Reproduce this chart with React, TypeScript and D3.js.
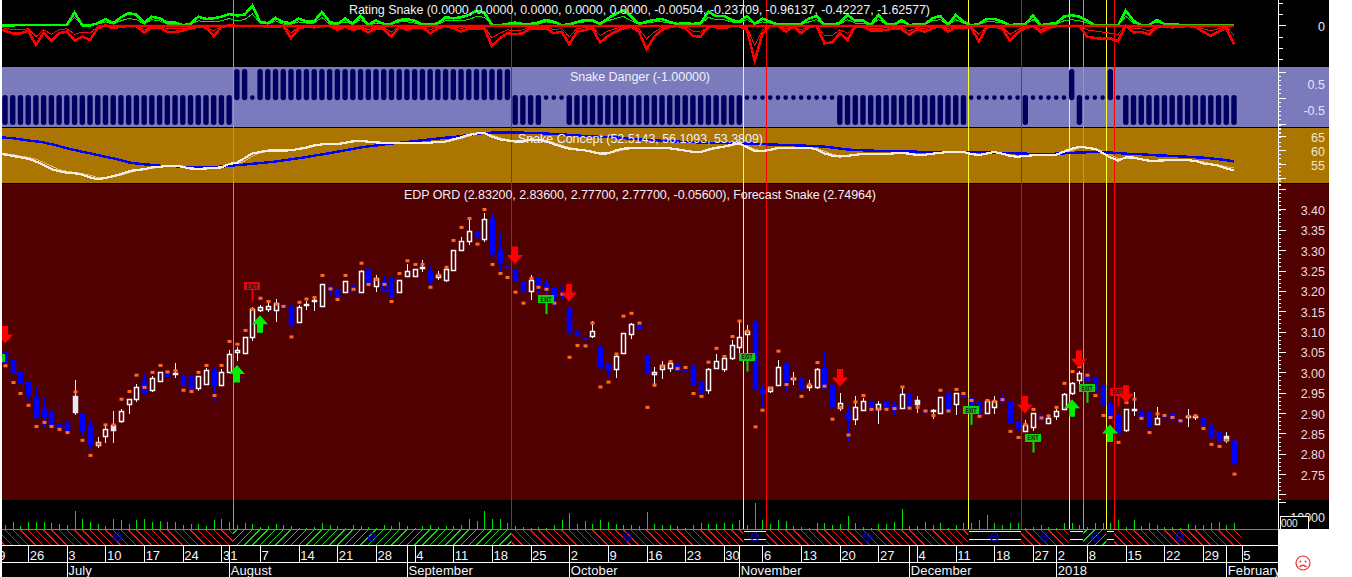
import * as d3 from "d3";
import { useEffect, useRef } from "react";

// Daily candles, one entry per trading day
const opens = [
  3.049, 3.03, 3.001, 2.977, 2.939, 2.909, 2.904, 2.874, 2.878, 2.942,
  2.898, 2.87, 2.822, 2.844, 2.87, 2.88, 2.921, 2.934, 2.978, 2.957,
  2.979, 3.001, 2.998, 2.991, 2.991, 2.962, 2.972, 3.006, 2.97, 3.002,
  3.049, 3.048, 3.086, 3.154, 3.155, 3.154, 3.166, 3.163, 3.123, 3.167,
  3.177, 3.164, 3.206, 3.204, 3.198, 3.213, 3.198, 3.253, 3.213, 3.221,
  3.232, 3.198, 3.237, 3.237, 3.258, 3.248, 3.233, 3.228, 3.251, 3.301,
  3.323, 3.345, 3.328, 3.376, 3.3, 3.262, 3.251, 3.222, 3.201, 3.231,
  3.217, 3.207, 3.192, 3.158, 3.101, 3.085, 3.09, 3.061, 3.02, 3.009,
  3.048, 3.095, 3.12, 3.042, 2.997, 3.007, 3.011, 3.02, 3.006, 3.016,
  2.977, 2.956, 3.011, 3.009, 3.036, 3.063, 3.095, 3.125, 2.96, 2.953,
  2.969, 3.02, 2.987, 2.985, 2.965, 2.965, 3.011, 2.968, 2.913, 2.899,
  2.886, 2.908, 2.929, 2.911, 2.929, 2.919, 2.913, 2.947, 2.931, 2.906,
  2.908, 2.899, 2.948, 2.921, 2.945, 2.936, 2.927, 2.901, 2.914, 2.936,
  2.927, 2.879, 2.857, 2.866, 2.896, 2.876, 2.893, 2.911, 2.948, 2.98,
  2.996, 2.988, 2.968, 2.922, 2.893, 2.858, 2.911, 2.904, 2.903, 2.874,
  2.894, 2.897, 2.884, 2.892, 2.892, 2.889, 2.87, 2.853, 2.843, 2.832,
];
const closes = [
  3.026, 3.002, 2.973, 2.947, 2.891, 2.893, 2.87, 2.863, 2.858, 2.903,
  2.858, 2.824, 2.83, 2.86, 2.859, 2.904, 2.934, 2.963, 2.952, 2.985,
  3.002, 2.992, 2.998, 2.971, 2.961, 2.992, 3.005, 2.969, 3.002, 3.045,
  3.056, 3.086, 3.155, 3.16, 3.162, 3.171, 3.164, 3.116, 3.16, 3.167,
  3.177, 3.216, 3.204, 3.188, 3.224, 3.201, 3.248, 3.22, 3.231, 3.202,
  3.188, 3.228, 3.248, 3.255, 3.258, 3.228, 3.239, 3.253, 3.3, 3.323,
  3.346, 3.332, 3.376, 3.292, 3.272, 3.26, 3.228, 3.2, 3.228, 3.216,
  3.207, 3.188, 3.191, 3.1, 3.092, 3.083, 3.101, 3.016, 3.008, 3.041,
  3.096, 3.118, 3.11, 3.002, 3.002, 3.017, 3.022, 3.005, 3.005, 2.972,
  2.952, 3.009, 3.027, 3.034, 3.066, 3.086, 3.102, 2.959, 2.952, 2.965,
  3.014, 2.981, 2.987, 2.959, 2.97, 3.007, 2.965, 2.917, 2.924, 2.888,
  2.914, 2.929, 2.908, 2.921, 2.914, 2.909, 2.946, 2.914, 2.921, 2.904,
  2.908, 2.939, 2.907, 2.948, 2.942, 2.912, 2.899, 2.929, 2.93, 2.929,
  2.879, 2.866, 2.871, 2.899, 2.885, 2.887, 2.904, 2.946, 2.975, 2.998,
  2.981, 2.953, 2.922, 2.889, 2.854, 2.911, 2.911, 2.893, 2.869, 2.887,
  2.893, 2.888, 2.882, 2.892, 2.892, 2.87, 2.841, 2.831, 2.834, 2.777,
];
const highs = [
  3.055, 3.041, 3.001, 2.977, 2.963, 2.936, 2.942, 2.893, 2.889, 2.981,
  2.898, 2.885, 2.84, 2.871, 2.905, 2.911, 2.934, 2.971, 2.995, 2.991,
  3.002, 3.018, 3.023, 3.001, 2.991, 2.992, 3.01, 3.01, 3.007, 3.055,
  3.061, 3.086, 3.161, 3.165, 3.174, 3.18, 3.174, 3.163, 3.165, 3.176,
  3.184, 3.216, 3.215, 3.209, 3.224, 3.231, 3.251, 3.253, 3.238, 3.237,
  3.239, 3.228, 3.266, 3.255, 3.275, 3.262, 3.249, 3.261, 3.3, 3.333,
  3.376, 3.345, 3.392, 3.391, 3.34, 3.276, 3.251, 3.222, 3.238, 3.231,
  3.228, 3.207, 3.214, 3.158, 3.115, 3.099, 3.126, 3.065, 3.02, 3.045,
  3.096, 3.12, 3.136, 3.042, 3.012, 3.028, 3.03, 3.027, 3.006, 3.016,
  3.002, 3.011, 3.045, 3.034, 3.079, 3.126, 3.116, 3.125, 2.968, 2.965,
  3.03, 3.026, 3.0, 3.001, 2.981, 3.011, 3.051, 2.968, 2.948, 2.917,
  2.942, 2.937, 2.935, 2.929, 2.929, 2.929, 2.966, 2.958, 2.942, 2.932,
  2.91, 2.939, 2.948, 2.948, 2.95, 2.948, 2.958, 2.934, 2.942, 2.948,
  2.927, 2.879, 2.882, 2.899, 2.909, 2.894, 2.909, 2.95, 2.977, 3.004,
  3.022, 3.001, 2.968, 2.928, 2.899, 2.911, 2.952, 2.924, 2.903, 2.914,
  2.901, 2.897, 2.886, 2.911, 2.898, 2.889, 2.872, 2.857, 2.853, 2.836,
];
const lows = [
  3.024, 2.987, 2.973, 2.928, 2.887, 2.865, 2.865, 2.858, 2.854, 2.895,
  2.844, 2.809, 2.815, 2.827, 2.827, 2.876, 2.898, 2.928, 2.942, 2.952,
  2.977, 2.992, 2.987, 2.961, 2.961, 2.955, 2.972, 2.93, 2.97, 3.002,
  3.029, 3.046, 3.078, 3.149, 3.148, 3.124, 3.143, 3.104, 3.122, 3.153,
  3.151, 3.164, 3.188, 3.188, 3.198, 3.194, 3.198, 3.215, 3.198, 3.202,
  3.182, 3.198, 3.237, 3.237, 3.246, 3.212, 3.227, 3.223, 3.249, 3.299,
  3.313, 3.294, 3.321, 3.284, 3.247, 3.247, 3.206, 3.184, 3.178, 3.194,
  3.192, 3.161, 3.179, 3.084, 3.075, 3.056, 3.085, 3.006, 2.989, 2.987,
  3.048, 3.083, 3.11, 2.959, 2.965, 2.984, 3.002, 3.005, 3.005, 2.958,
  2.952, 2.947, 3.011, 3.002, 3.03, 3.038, 3.034, 2.889, 2.916, 2.948,
  2.967, 2.954, 2.969, 2.959, 2.955, 2.96, 2.96, 2.916, 2.905, 2.832,
  2.871, 2.908, 2.908, 2.873, 2.907, 2.895, 2.911, 2.911, 2.899, 2.901,
  2.885, 2.899, 2.907, 2.895, 2.925, 2.907, 2.892, 2.899, 2.897, 2.925,
  2.879, 2.854, 2.857, 2.856, 2.881, 2.874, 2.883, 2.911, 2.945, 2.971,
  2.981, 2.948, 2.914, 2.885, 2.854, 2.854, 2.893, 2.881, 2.869, 2.874,
  2.885, 2.881, 2.873, 2.866, 2.883, 2.87, 2.841, 2.831, 2.827, 2.777,
];
const forecastSnake = [
  3.016, 2.975, 2.948, 2.919, 2.867, 2.877, 2.867, 2.86, 2.852, 2.952,
  2.833, 2.796, 2.824, 2.871, 2.871, 2.934, 2.953, 2.993, 2.963, 3.0,
  3.017, 3.001, 3.004, 2.956, 2.953, 3.0, 3.017, 2.943, 3.017, 3.076,
  3.069, 3.103, 3.155, 3.182, 3.174, 3.167, 3.162, 3.087, 3.172, 3.18,
  3.184, 3.238, 3.205, 3.179, 3.238, 3.204, 3.268, 3.216, 3.228, 3.216,
  3.174, 3.243, 3.274, 3.265, 3.265, 3.209, 3.239, 3.258, 3.324, 3.356,
  3.378, 3.315, 3.4, 3.265, 3.243, 3.233, 3.197, 3.17, 3.231, 3.209,
  3.204, 3.17, 3.192, 3.037, 3.066, 3.065, 3.121, 2.964, 2.976, 3.045,
  3.138, 3.145, 3.121, 2.914, 2.969, 3.015, 3.026, 3.009, 3.012, 2.948,
  2.941, 3.025, 3.059, 3.039, 3.088, 3.126, 3.101, 2.866, 2.907, 2.961,
  3.052, 2.97, 2.985, 2.941, 2.97, 3.024, 2.966, 2.885, 2.914, 2.846,
  2.927, 2.943, 2.909, 2.91, 2.909, 2.911, 2.964, 2.912, 2.914, 2.905,
  2.894, 2.956, 2.905, 2.958, 2.948, 2.931, 2.892, 2.931, 2.929, 2.933,
  2.855, 2.84, 2.872, 2.909, 2.888, 2.893, 2.914, 2.973, 3.002, 3.014,
  2.993, 2.943, 2.894, 2.889, 2.828, 2.926, 2.934, 2.887, 2.852, 2.898,
  2.894, 2.889, 2.881, 2.892, 2.893, 2.862, 2.823, 2.818, 2.833, 2.75,
];
const solidWhiteDays = [9, 14, 118, 158];
const blueOutlineDays = [49];

// Volume (thousands)
const volumes = [
  4.3, 7.3, 3.3, 7.3, 7.3, 7.3, 6.3, 5.3, 4.3, 18.3, 10.3, 7.3, 5.3, 3.3, 10.3, 9.3, 5.3, 9.3, 10.3, 7.3,
  8.3, 7.3, 7.3, 4.3, 5.3, 5.3, 3.3, 9.3, 10.3, 7.3, 4.3, 6.3, 5.3, 2.3, 3.3, 5.3, 4.3, 3.3, 1.3, 1.3,
  2.3, 6.3, 4.3, 3.3, 1.3, 4.3, 3.3, 2.3, 0.7, 4.3, 3.3, 7.3, 3.3, 0.7, 3.3, 4.3, 2.3, 3.3, 2.7, 4.3,
  10.3, 8.3, 18.3, 10.3, 10.3, 6.3, 3.3, 2.3, 1.3, 2.3, 1.3, 4.3, 9.3, 16.3, 5.3, 8.3, 5.3, 9.3, 7.3, 5.3,
  4.3, 4.3, 3.3, 17.3, 5.3, 4.3, 4.3, 3.3, 1.3, 4.3, 6.3, 5.3, 5.3, 6.3, 5.3, 9.3, 4.3, 26.3, 9.3, 5.3,
  9.3, 8.3, 3.3, 2.3, 1.3, 6.3, 6.3, 4.3, 5.3, 13.3, 6.3, 2.3, 0.7, 5.3, 5.3, 7.3, 19.7, 3, 3, 7,
  4.3, 5.7, 0.7, 4, 5.7, 6.3, 9, 14, 5.7, 3.7, 5.7, 6.3, 0.7, 1.7, 3.7, 1.7, 0.7, 6.3, 5.7, 3.7,
  2.3, 5.7, 5.7, 5.7, 9, 2.3, 9, 3, 6.3, 4, 2.3, 2.3, 0.7, 5, 4, 4, 5.7, 7, 4.3, 5.7,
];

// Rating Snake
const ratingGreen = [
  0, 0, 0.03, 0.03, 0.03, 0.03, 0.03, 0.03, 0.03, 1.12, 0, 0, 0.18, 0.56, 0.18, 0.71, 1.06, 0.94, 0.24, 0.76,
  0.62, 0.24, 0.24, 0, 0.12, 0.76, 0.56, 0.62, 0.76, 1.0, 0.88, 0.94, 1.74, 0.32, 0.18, 0.65, 0.29, 0.18, 0.59, 0.35,
  0.35, 1.18, 0.29, 0.12, 0.59, 0.12, 0.82, 0.06, 0.41, 0.12, 0.12, 0.47, 0.53, 0.41, 0.06, 0.06, 0.18, 0.71, 0.62, 0.71,
  0.91, 1.29, 1.12, 0.03, 0, 0.12, 0.24, 0.12, 0.12, 0.24, 0.47, 0.32, 0.03, 0.06, 0.29, 0.47, 0.47, 0.12, 0.6, 1.0,
  1.35, 0.76, 0.12, 0.32, 0.47, 0.56, 0.29, 0.12, 0.18, 0.12, 0.18, 1.2, 0.82, 0.82, 0.47, 0.32, 0.82, 0.12, 0.6, 0.32,
  0.06, 0.12, 0.12, 0.12, 0.6, 0.82, 0.06, 0.06, 0.2, 0.9, 0.41, 0.41, 0.03, 0.91, 0.12, 0.06, 0.47, 0, 0.12, 0.12,
  0.62, 0.82, 0.03, 0.91, 0.32, 0, 0.12, 0.56, 0.56, 0.32, 0, 0.12, 0.12, 0.85, 0, 0.12, 0.18, 0.76, 0.91, 0.76,
  0.41, 0, 0, 0.03, 0, 1.29, 0.41, 0, 0, 0.47, 0.12, 0.12, 0.03, 0.03, 0.03, 0, 0, 0, 0, 0,
];
const ratingGreenThin = [
  0, 0, 0, 0, 0, 0, 0, 0, 0, 0.7, 0, 0, 0.1, 0.3, 0.1, 0.4, 0.6, 0.5, 0.1, 0.5,
  0.4, 0.1, 0.1, 0, 0.1, 0.4, 0.3, 0.3, 0.4, 0.6, 0.4, 0.5, 1.0, 0.2, 0.1, 0.4, 0.1, 0.1, 0.3, 0.2,
  0.2, 0.7, 0.1, 0.1, 0.3, 0.1, 0.5, 0, 0.2, 0.1, 0.1, 0.3, 0.3, 0.2, 0, 0, 0.1, 0.4, 0.4, 0.4,
  0.5, 0.8, 0.7, 0, 0, 0.1, 0.1, 0.1, 0.1, 0.1, 0.3, 0.2, 0, 0, 0.2, 0.3, 0.3, 0.1, 0.4, 0.6,
  0.8, 0.4, 0.1, 0.2, 0.3, 0.3, 0.2, 0.1, 0.1, 0.1, 0.1, 0.7, 0.5, 0.5, 0.3, 0.2, 0.5, 0.1, 0.3, 0.2,
  0, 0.1, 0.1, 0.1, 0.3, 0.5, 0, 0, 0.1, 0.5, 0.2, 0.2, 0, 0.5, 0.1, 0, 0.3, 0, 0.1, 0.1,
  0.4, 0.5, 0, 0.5, 0.2, 0, 0.1, 0.3, 0.3, 0.2, 0, 0.1, 0.1, 0.5, 0, 0.1, 0.1, 0.4, 0.5, 0.4,
  0.2, 0, 0, 0, 0, 0.8, 0.2, 0, 0, 0.3, 0.1, 0.1, 0, 0, 0, 0, 0, 0, 0, 0,
];
const ratingRed = [
  -0.41, -0.71, -0.71, -0.47, -1.74, -0.65, -1.38, -0.71, -0.56, -1.35, -1.0, -1.29, -0.26, 0, -0.26, -0.12, -0.06, -0.06, -0.65, -0.18,
  -0.18, -0.59, -0.59, -0.47, -0.29, -0.12, -0.18, -0.94, -0.18, 0, -0.06, -0.06, -0.06, -0.06, -0.12, -0.12, -0.06, -1.15, -0.26, -0.12,
  -0.18, -0.06, -0.06, -0.41, -0.12, -0.41, -0.24, -0.65, -0.26, -0.35, -1.0, -0.12, -0.41, -0.18, -0.18, -0.71, -0.26, -0.06, -0.26, -0.56,
  -0.26, -0.26, -0.26, -1.82, -1.15, -0.71, -0.79, -0.71, -0.26, -0.26, -0.26, -0.71, -0.56, -1.68, -0.56, -0.41, -0.26, -1.53, -0.94, -0.56,
  -0.26, -0.12, -0.56, -2.12, -1.0, -0.41, -0.12, -0.06, -0.26, -0.94, -1.0, -0.12, -0.18, -0.26, -0.06, -0.06, -0.41, -3.15, -0.71, -0.06,
  -0.06, -0.56, -0.12, -0.71, -0.12, -0.06, -1.59, -1.53, -0.71, -1.29, -0.12, -0.12, -0.47, -0.47, -0.41, -0.26, -0.35, -0.85, -0.35, -0.56,
  -0.26, -0.06, -0.56, -0.18, -0.26, -0.24, -1.44, -0.18, -0.12, -0.26, -1.35, -0.65, -0.26, -0.06, -0.62, -0.26, -0.06, -0.06, -0.06, -0.06,
  -1.0, -1.12, -1.2, -1.15, -1.41, -0.06, -0.62, -0.59, -0.82, -0.18, -0.12, -0.18, -0.12, -0.06, -0.12, -0.56, -0.94, -0.56, -0.24, -1.68,
];
const ratingRedThin = [
  -0.2, -0.4, -0.4, -0.3, -1.0, -0.4, -0.8, -0.4, -0.3, -0.8, -0.6, -0.7, -0.1, 0, -0.1, -0.1, 0, 0, -0.4, -0.1,
  -0.1, -0.3, -0.3, -0.3, -0.2, -0.1, -0.1, -0.5, -0.1, 0, 0, 0, 0, 0, -0.1, -0.1, 0, -0.7, -0.1, -0.1,
  -0.1, 0, 0, -0.2, -0.1, -0.2, -0.1, -0.4, -0.1, -0.2, -0.6, -0.1, -0.2, -0.1, -0.1, -0.4, -0.1, 0, -0.1, -0.3,
  -0.1, -0.1, -0.1, -1.1, -0.7, -0.4, -0.5, -0.4, -0.1, -0.1, -0.1, -0.4, -0.3, -1.0, -0.3, -0.2, -0.1, -0.9, -0.5, -0.3,
  -0.1, -0.1, -0.3, -1.2, -0.6, -0.2, -0.1, 0, -0.1, -0.5, -0.6, -0.1, -0.1, -0.1, 0, 0, -0.2, -1.8, -0.4, 0,
  0, -0.3, -0.1, -0.4, -0.1, 0, -0.9, -0.9, -0.4, -0.7, -0.1, -0.1, -0.3, -0.3, -0.2, -0.1, -0.2, -0.5, -0.2, -0.3,
  -0.1, 0, -0.3, -0.1, -0.1, -0.1, -0.8, -0.1, -0.1, -0.1, -0.8, -0.4, -0.1, 0, -0.4, -0.1, 0, 0, 0, 0,
  -0.4, -0.5, -0.6, -0.7, -0.8, 0, -0.3, -0.3, -0.5, -0.1, -0.1, -0.1, -0.1, 0, -0.1, -0.3, -0.5, -0.3, -0.1, -0.9,
];

// Snake Danger: -1, 0 or 1
const snakeDanger = [
  -1, -1, -1, -1, -1, -1, -1, -1, -1, -1, -1, -1, -1, -1, -1, -1, -1, -1, -1, -1,
  -1, -1, -1, -1, -1, -1, -1, -1, -1, -1, 1, 1, 0, 1, 1, 1, 1, 1, 1, 1,
  1, 1, 1, 1, 1, 1, 1, 1, 1, 1, 1, 1, 1, 1, 1, 1, 1, 1, 1, 1,
  1, 1, 1, 1, 1, 1, -1, -1, -1, -1, 0, 0, 0, -1, -1, -1, -1, -1, -1, -1,
  -1, -1, -1, -1, -1, -1, -1, -1, -1, -1, -1, -1, -1, -1, -1, -1, 0, 0, 0, 0,
  0, 0, 0, 0, 0, 0, 0, 0, -1, -1, -1, -1, -1, -1, -1, -1, -1, -1, -1, -1,
  -1, -1, -1, -1, -1, 0, 0, 0, 0, 0, 0, 0, -1, 0, 0, 0, 0, 0, 1, -1,
  0, 0, 0, 1, 0, -1, -1, -1, -1, -1, -1, -1, -1, -1, -1, -1, -1, -1, -1, -1,
];

// Snake Concept
const conceptBlue = [
  65.1, 64.8, 64.4, 64.0, 63.7, 63.3, 62.7, 62.0, 61.2, 60.6, 60.0, 59.4, 58.8, 58.2, 57.6, 57.0, 56.2, 55.8, 55.5, 55.3,
  55.0, 54.9, 54.8, 54.6, 54.4, 54.3, 54.3, 54.5, 54.7, 54.9, 55.2, 55.4, 55.7, 55.9, 56.2, 56.5, 56.9, 57.3, 57.7, 58.1,
  58.6, 59.0, 59.5, 60.0, 60.5, 61.0, 61.5, 61.9, 62.2, 62.6, 62.9, 63.2, 63.5, 63.8, 64.1, 64.4, 64.7, 65.0, 65.2, 65.6,
  66.0, 66.4, 66.7, 66.8, 66.8, 66.8, 66.8, 66.8, 66.7, 66.6, 66.5, 66.3, 66.2, 66.0, 65.8, 65.6, 65.5, 65.3, 65.2, 65.1,
  64.9, 64.6, 64.4, 64.2, 64.1, 63.9, 63.8, 63.6, 63.5, 63.4, 63.3, 63.2, 63.2, 63.1, 63.1, 63.0, 63.0, 62.8, 62.7, 62.6,
  62.5, 62.4, 62.3, 62.2, 62.1, 62.0, 61.8, 61.5, 61.1, 60.8, 60.6, 60.5, 60.4, 60.3, 60.3, 60.2, 60.2, 60.1, 60.0, 60.0,
  59.9, 59.9, 59.9, 59.9, 59.9, 59.8, 59.8, 59.7, 59.6, 59.6, 59.5, 59.4, 59.3, 59.2, 59.2, 59.2, 59.3, 59.4, 59.6, 59.7,
  59.8, 59.8, 59.8, 59.7, 59.5, 59.3, 59.2, 59.1, 58.9, 58.7, 58.6, 58.5, 58.3, 58.2, 58.0, 57.9, 57.6, 57.3, 57.0, 56.5,
];
const conceptWhite = [
  59.2, 58.5, 58.0, 57.5, 56.5, 55.2, 53.8, 53.0, 52.5, 52.3, 51.8, 50.8, 50.2, 50.6, 51.3, 52.0, 53.0, 53.5, 53.7, 54.4,
  54.6, 54.9, 55.0, 54.6, 54.0, 53.9, 54.0, 54.2, 54.4, 55.6, 56.1, 57.7, 59.4, 59.9, 60.4, 60.4, 60.4, 60.5, 61.0, 61.5,
  62.3, 62.6, 62.7, 62.7, 63.2, 63.7, 63.8, 63.6, 63.3, 63.2, 63.0, 63.1, 63.2, 63.2, 63.2, 63.2, 63.5, 63.6, 64.4, 65.1,
  66.0, 66.5, 66.8, 65.4, 64.4, 64.0, 63.6, 63.7, 64.4, 64.2, 63.7, 62.7, 61.8, 61.1, 60.8, 60.5, 59.9, 59.3, 59.4, 60.4,
  61.1, 61.2, 61.2, 61.2, 61.3, 61.3, 61.2, 60.8, 60.4, 59.9, 59.9, 60.8, 61.4, 61.8, 62.5, 63.0, 61.5, 60.2, 60.2, 60.7,
  61.3, 61.3, 61.4, 61.4, 61.4, 60.8, 59.4, 58.6, 58.3, 58.5, 58.9, 59.2, 59.2, 59.2, 59.2, 59.4, 59.5, 59.3, 58.8, 58.9,
  59.3, 59.6, 59.9, 60.0, 59.9, 59.2, 58.8, 59.4, 59.9, 59.3, 58.5, 58.2, 58.5, 58.7, 58.7, 58.7, 58.9, 60.0, 61.1, 61.8,
  61.4, 61.0, 59.6, 58.0, 56.8, 58.0, 57.9, 57.3, 56.8, 56.8, 56.9, 57.0, 57.0, 57.0, 56.7, 55.8, 55.5, 55.0, 54.0, 53.4,
];
const conceptTan = [
  59.4, 59.0, 58.4, 58.0, 57.3, 56.2, 54.9, 53.6, 53.0, 52.6, 52.2, 51.6, 50.8, 50.6, 51.0, 51.6, 52.4, 53.2, 53.6, 54.0,
  54.4, 54.7, 54.9, 54.9, 54.4, 54.1, 54.0, 54.1, 54.3, 55.0, 55.7, 56.7, 58.4, 59.6, 60.1, 60.4, 60.4, 60.4, 60.7, 61.2,
  61.9, 62.4, 62.6, 62.7, 62.9, 63.4, 63.7, 63.7, 63.4, 63.3, 63.1, 63.0, 63.1, 63.1, 63.1, 63.1, 63.3, 63.5, 64.0, 64.7,
  65.5, 66.2, 66.6, 66.0, 65.0, 64.3, 63.9, 63.7, 64.0, 64.3, 64.0, 63.2, 62.3, 61.5, 61.0, 60.6, 60.2, 59.6, 59.4, 59.9,
  60.7, 61.1, 61.2, 61.2, 61.3, 61.3, 61.3, 61.0, 60.6, 60.2, 59.9, 60.3, 61.1, 61.6, 62.1, 62.7, 62.2, 60.9, 60.2, 60.4,
  61.0, 61.3, 61.4, 61.4, 61.4, 61.1, 60.2, 59.1, 58.5, 58.4, 58.7, 59.0, 59.2, 59.2, 59.2, 59.3, 59.4, 59.4, 59.0, 58.9,
  59.1, 59.4, 59.8, 59.9, 59.9, 59.5, 59.0, 59.1, 59.6, 59.6, 58.9, 58.4, 58.3, 58.6, 58.7, 58.7, 58.8, 59.4, 60.5, 61.4,
  61.6, 61.2, 60.3, 58.9, 57.5, 57.4, 57.8, 57.5, 57.0, 56.8, 56.8, 56.9, 57.0, 57.0, 56.9, 56.4, 55.7, 55.3, 54.6, 54.2,
];

// Signals: day index and price at the arrow tip / flag pole foot
const upArrows = [
  { day: 30, price: 3.018 },
  { day: 33, price: 3.14 },
  { day: 138, price: 2.934 },
  { day: 143, price: 2.872 },
];
const downArrows = [
  { day: 0, price: 3.071 },
  { day: 66, price: 3.266 },
  { day: 73, price: 3.174 },
  { day: 108, price: 2.965 },
  { day: 132, price: 2.899 },
  { day: 139, price: 3.011 },
  { day: 145, price: 2.925 },
];
const greenExits = [
  { day: -1, price: 2.998 },
  { day: 70, price: 3.143 },
  { day: 96, price: 3.002 },
  { day: 125, price: 2.871 },
  { day: 133, price: 2.803 },
  { day: 140, price: 2.925 },
];
const redExits = [
  { day: 32, price: 3.174 },
  { day: 144, price: 2.916 },
];

// Vertical markers sit between two trading days
const markers = [
  { day: 29.5, color: "#48d820" },
  { day: 65.5, color: "#c81414" },
  { day: 95.5, color: "#ffff30" },
  { day: 98.5, color: "#ff0000" },
  { day: 124.6, color: "#ffff30" },
  { day: 131.4, color: "#c81414" },
  { day: 137.6, color: "#ffff30" },
  { day: 139.5, color: "#48d820" },
  { day: 142.5, color: "#ffff30" },
  { day: 143.5, color: "#ff0000" },
];

// State band under the volume
const stateBands = [
  { from: -1, to: 29.5, state: "down" },
  { from: 29.5, to: 65.5, state: "up" },
  { from: 65.5, to: 95.5, state: "down" },
  { from: 95.5, to: 98.5, state: "flat" },
  { from: 98.5, to: 124.6, state: "down" },
  { from: 124.6, to: 131.4, state: "flat" },
  { from: 131.4, to: 137.6, state: "down" },
  { from: 137.6, to: 139.5, state: "flat" },
  { from: 139.5, to: 142.5, state: "up" },
  { from: 142.5, to: 143.5, state: "flat" },
  { from: 143.5, to: 160, state: "down" },
];
const bandIcons = [14.5, 47.5, 80.5, 97, 111.5, 128, 134.5, 141, 152];

const dayTicks = [
  { day: -2, label: "19" }, { day: 3, label: "26" }, { day: 8, label: "3" }, { day: 13, label: "10" },
  { day: 18, label: "17" }, { day: 23, label: "24" }, { day: 28, label: "31" }, { day: 33, label: "7" },
  { day: 38, label: "14" }, { day: 43, label: "21" }, { day: 48, label: "28" }, { day: 53, label: "4" },
  { day: 58, label: "11" }, { day: 63, label: "18" }, { day: 68, label: "25" }, { day: 73, label: "2" },
  { day: 78, label: "9" }, { day: 83, label: "16" }, { day: 88, label: "23" }, { day: 93, label: "30" },
  { day: 98, label: "6" }, { day: 103, label: "13" }, { day: 108, label: "20" }, { day: 113, label: "27" },
  { day: 118, label: "4" }, { day: 123, label: "11" }, { day: 128, label: "18" }, { day: 133, label: "27" },
  { day: 136, label: "2" }, { day: 140, label: "8" }, { day: 145, label: "15" }, { day: 150, label: "22" },
  { day: 155, label: "29" }, { day: 160, label: "5" },
];
const extraDaySeparators = [29, 52, 95, 117, 158];
const monthTicks = [
  { day: 8, label: "July" }, { day: 29, label: "August" }, { day: 52, label: "September" },
  { day: 73, label: "October" }, { day: 95, label: "November" }, { day: 117, label: "December" },
  { day: 136, label: "2018" }, { day: 158, label: "February" },
];

const titles = [
  { text: "Rating Snake (0.0000, 0.0000, 0.0000, 0.0000, 0.0000, -0.00504, -0.23709, -0.96137, -0.42227, -1.62577)", x: 349, y: 14, w: 581 },
  { text: "Snake Danger (-1.00000)", x: 570, y: 81, w: 140 },
  { text: "Snake Concept (52.5143, 56.1093, 53.3809)", x: 518, y: 143, w: 245 },
  { text: "EDP ORD (2.83200, 2.83600, 2.77700, 2.77700, -0.05600), Forecast Snake (2.74964)", x: 404, y: 199, w: 472 },
];

const FONT = "'Liberation Sans', Arial, sans-serif";
const LEFT = 2;
const AXIS_X = 1278;
const RIGHT = 1329;

export default function App() {
  const svgRef = useRef<SVGSVGElement>(null);

  useEffect(() => {
    if (!svgRef.current) return;
    const svg = d3.select(svgRef.current);
    svg.selectAll("*").remove();

    const x = d3.scaleLinear().domain([0, 159]).range([5, 1234]);
    const days = d3.range(opens.length);

    const yRating = d3.scaleLinear().domain([0, -1]).range([25.3, 36.6]);
    const yDanger = d3.scaleLinear().domain([0, 1]).range([97.6, 71.6]);
    const yConcept = d3.scaleLinear().domain([60, 50]).range([151.7, 179.7]);
    const yPrice = d3.scaleLinear().domain([3.4, 2.75]).range([209.5, 474.1]);
    const yVolume = d3.scaleLinear().domain([0, 12]).range([529, 517]);

    // The indicators run on past the left edge, so the first point is pulled to it
    const indicatorX = (i: number) => (i === 0 ? LEFT : x(i));

    // Panel backgrounds
    const panels = [
      { y: 0, h: 67, fill: "#000000" },
      { y: 67, h: 60, fill: "#7a7abc" },
      { y: 127, h: 1, fill: "#000000" },
      { y: 128, h: 55, fill: "#aa7500" },
      { y: 183, h: 1, fill: "#000000" },
      { y: 184, h: 316, fill: "#500000" },
      { y: 500, h: 29, fill: "#000000" },
    ];
    svg
      .selectAll("rect.panel")
      .data(panels)
      .enter()
      .append("rect")
      .attr("x", LEFT)
      .attr("y", (d) => d.y)
      .attr("width", RIGHT - LEFT)
      .attr("height", (d) => d.h)
      .attr("fill", (d) => d.fill);

    const defs = svg.append("defs");
    const addClip = (id: string, y: number, h: number) =>
      defs
        .append("clipPath")
        .attr("id", id)
        .append("rect")
        .attr("x", LEFT)
        .attr("y", y)
        .attr("width", AXIS_X - LEFT)
        .attr("height", h);
    addClip("clip-all", 0, 577);
    addClip("clip-rating", 0, 67);
    addClip("clip-band", 530, 15);

    // Vertical markers
    svg
      .append("g")
      .selectAll("line")
      .data(markers)
      .enter()
      .append("line")
      .attr("x1", (d) => Math.round(x(d.day)) + 0.5)
      .attr("x2", (d) => Math.round(x(d.day)) + 0.5)
      .attr("y1", 0)
      .attr("y2", 529)
      .attr("stroke", (d) => d.color)
      .attr("stroke-width", 1)
      .attr("shape-rendering", "crispEdges");

    // Rating Snake lines
    const ratingLine = d3
      .line<number>()
      .x((_, i) => indicatorX(i))
      .y((d) => yRating(d));
    const ratingGroup = svg.append("g").attr("clip-path", "url(#clip-rating)");
    const ratingSeries = [
      { data: ratingGreenThin, color: "#00e800", width: 1 },
      { data: ratingGreen, color: "#00ff00", width: 2.6 },
      { data: ratingRedThin, color: "#f01010", width: 1 },
      { data: ratingRed, color: "#ff0000", width: 2.6 },
    ];
    ratingSeries.forEach((s) => {
      ratingGroup
        .append("path")
        .attr("d", ratingLine(s.data))
        .attr("fill", "none")
        .attr("stroke", s.color)
        .attr("stroke-width", s.width)
        .attr("shape-rendering", "crispEdges");
    });
    ratingGroup
      .append("line")
      .attr("x1", x(12))
      .attr("x2", x(159))
      .attr("y1", yRating(-0.05))
      .attr("y2", yRating(-0.05))
      .attr("stroke", "#ff0000")
      .attr("stroke-width", 2.4);

    // Snake Danger bars
    svg
      .append("g")
      .selectAll("line")
      .data(snakeDanger)
      .enter()
      .append("line")
      .attr("x1", (_, i) => x(i))
      .attr("x2", (_, i) => x(i))
      .attr("y1", yDanger(0))
      .attr("y2", (d) => yDanger(d < 0 ? d * 0.95 : d))
      .attr("stroke", "#000060")
      .attr("stroke-width", (d) => (d === 0 ? 4.6 : 5.4))
      .attr("stroke-linecap", "round");

    // Snake Concept lines
    const conceptLine = d3
      .line<number>()
      .x((_, i) => indicatorX(i))
      .y((d) => yConcept(d));
    const conceptSeries = [
      { data: conceptTan, color: "#d8b880", width: 1 },
      { data: conceptBlue, color: "#0000ff", width: 2.4 },
      { data: conceptWhite, color: "#f8ecdc", width: 2.2 },
    ];
    conceptSeries.forEach((s) => {
      svg
        .append("path")
        .attr("d", conceptLine(s.data))
        .attr("fill", "none")
        .attr("stroke", s.color)
        .attr("stroke-width", s.width)
        .attr("shape-rendering", "crispEdges");
    });

    // Candles
    const candles = svg.append("g").attr("clip-path", "url(#clip-all)");
    const candleColor = (i: number) => {
      if (solidWhiteDays.includes(i)) return "#e8e8f4";
      if (closes[i] < opens[i]) return "#0000ff";
      return "#f8f8ff";
    };
    candles
      .selectAll("line.wick")
      .data(days)
      .enter()
      .append("line")
      .attr("x1", (i) => Math.round(x(i)) + 0.5)
      .attr("x2", (i) => Math.round(x(i)) + 0.5)
      .attr("y1", (i) => yPrice(highs[i]))
      .attr("y2", (i) => yPrice(lows[i]))
      .attr("stroke", candleColor)
      .attr("stroke-width", 1)
      .attr("shape-rendering", "crispEdges");
    // Bodies snap to the pixel grid so the outlines stay white instead of blurring to grey
    const bodyTop = (i: number) =>
      Math.round(yPrice(Math.max(opens[i], closes[i]))) + 0.5;
    const bodyBottom = (i: number) =>
      Math.round(yPrice(Math.min(opens[i], closes[i]))) + 0.5;
    candles
      .selectAll("rect.body")
      .data(days)
      .enter()
      .append("rect")
      .attr("x", (i) => Math.round(x(i)) - 1.5)
      .attr("y", bodyTop)
      .attr("width", 4)
      .attr("height", (i) => Math.max(1, bodyBottom(i) - bodyTop(i)))
      .attr("fill", (i) => {
        if (blueOutlineDays.includes(i)) return "#500000";
        if (closes[i] < opens[i]) return candleColor(i);
        return opens[i] === closes[i] ? candleColor(i) : "#500000";
      })
      .attr("stroke", candleColor)
      .attr("stroke-width", 1.5);

    // Forecast Snake dots
    candles
      .selectAll("rect.dot")
      .data(forecastSnake)
      .enter()
      .append("rect")
      .attr("x", (_, i) => Math.round(x(i)) - 1.5)
      .attr("y", (d) => yPrice(d) - 1.5)
      .attr("width", 4)
      .attr("height", 3)
      .attr("fill", "#ff6a20");

    // Exit flags
    const addExit = (
      list: { day: number; price: number }[],
      pole: string,
      box: string,
    ) => {
      list.forEach((f) => {
        const fx = Math.round(x(f.day));
        const tip = yPrice(f.price);
        const g = candles.append("g");
        g.append("rect")
          .attr("x", fx - 0.5)
          .attr("y", tip - 12)
          .attr("width", 2)
          .attr("height", 12)
          .attr("fill", pole);
        g.append("rect")
          .attr("x", fx - 7.5)
          .attr("y", tip - 18.5)
          .attr("width", 15)
          .attr("height", 7)
          .attr("fill", box)
          .attr("stroke", pole)
          .attr("stroke-width", 1)
          .attr("shape-rendering", "crispEdges");
        g.append("text")
          .attr("x", fx - 5.5)
          .attr("y", tip - 12.3)
          .attr("textLength", 11)
          .attr("lengthAdjust", "spacingAndGlyphs")
          .style("font-family", FONT)
          .style("font-size", "7px")
          .style("font-weight", "bold")
          .attr("fill", "#101010")
          .text("EXIT");
      });
    };
    addExit(greenExits, "#00e000", "#18c818");
    addExit(redExits, "#f00000", "#d01010");

    // Arrows
    const arrow = (dir: number) => {
      // dir = 1 points up with the tip at the origin, -1 points down
      const p = d3.path();
      p.moveTo(0, 0);
      p.lineTo(8, 9 * dir);
      p.lineTo(3, 9 * dir);
      p.lineTo(3, 17.5 * dir);
      p.lineTo(-3, 17.5 * dir);
      p.lineTo(-3, 9 * dir);
      p.lineTo(-8, 9 * dir);
      p.closePath();
      return p.toString();
    };
    candles
      .selectAll("path.up")
      .data(upArrows)
      .enter()
      .append("path")
      .attr("d", arrow(1))
      .attr("transform", (d) => `translate(${Math.round(x(d.day))},${yPrice(d.price)})`)
      .attr("fill", "#00f000");
    candles
      .selectAll("path.down")
      .data(downArrows)
      .enter()
      .append("path")
      .attr("d", arrow(-1))
      .attr("transform", (d) => `translate(${Math.round(x(d.day))},${yPrice(d.price)})`)
      .attr("fill", "#ff0000");

    // Volume
    svg
      .append("g")
      .selectAll("line")
      .data(volumes)
      .enter()
      .append("line")
      .attr("x1", (_, i) => Math.round(x(i)) + 0.5)
      .attr("x2", (_, i) => Math.round(x(i)) + 0.5)
      .attr("y1", yVolume(0))
      .attr("y2", (d) => yVolume(d))
      .attr("stroke", "#00e000")
      .attr("stroke-width", 1)
      .attr("shape-rendering", "crispEdges");

    // State band and date rows
    svg
      .append("rect")
      .attr("x", LEFT)
      .attr("y", 529)
      .attr("width", AXIS_X - LEFT)
      .attr("height", 48)
      .attr("fill", "#000000");
    svg
      .append("line")
      .attr("x1", LEFT)
      .attr("x2", AXIS_X)
      .attr("y1", 529.5)
      .attr("y2", 529.5)
      .attr("stroke", "#808080");

    const band = svg.append("g").attr("clip-path", "url(#clip-band)");
    stateBands.forEach((b) => {
      const x0 = x(b.from);
      const x1 = x(b.to);
      if (b.state === "flat") {
        [531.5, 539.5].forEach((ly) => {
          band
            .append("line")
            .attr("x1", x0 + 1)
            .attr("x2", x1)
            .attr("y1", ly)
            .attr("y2", ly)
            .attr("stroke", "#ffff30")
            .attr("shape-rendering", "crispEdges");
        });
        return;
      }
      const clipId = `band-${Math.round(x0)}`;
      defs
        .append("clipPath")
        .attr("id", clipId)
        .append("rect")
        .attr("x", x0)
        .attr("y", 530)
        .attr("width", x1 - x0)
        .attr("height", 15);
      const seg = band.append("g").attr("clip-path", `url(#${clipId})`);
      const up = b.state === "up";
      d3.range(-4, 165).forEach((k) => {
        seg
          .append("line")
          .attr("x1", x(k) + (up ? 15 : 0))
          .attr("x2", x(k) + (up ? 0 : 15))
          .attr("y1", 530)
          .attr("y2", 545)
          .attr("stroke", up ? "#20d020" : "#e81818")
          .attr("shape-rendering", "crispEdges");
      });
    });
    bandIcons.forEach((day) => {
      const g = svg.append("g").attr("transform", `translate(${x(day)},537)`);
      g.append("circle")
        .attr("r", 3.8)
        .attr("fill", "none")
        .attr("stroke", "#0000e0")
        .attr("stroke-width", 1.2);
      g.append("line")
        .attr("x1", -3)
        .attr("x2", 3)
        .attr("stroke", "#0000e0");
    });

    // Date rows
    const rowLines = [545.5, 562.5];
    rowLines.forEach((ly) => {
      svg
        .append("line")
        .attr("x1", LEFT)
        .attr("x2", AXIS_X)
        .attr("y1", ly)
        .attr("y2", ly)
        .attr("stroke", "#ffffff")
        .attr("shape-rendering", "crispEdges");
    });
    const dates = svg.append("g").attr("clip-path", "url(#clip-all)");
    [...dayTicks.map((d) => d.day), ...extraDaySeparators].forEach((day) => {
      dates
        .append("line")
        .attr("x1", Math.round(x(day)) + 0.5)
        .attr("x2", Math.round(x(day)) + 0.5)
        .attr("y1", 545)
        .attr("y2", 562)
        .attr("stroke", "#ffffff")
        .attr("shape-rendering", "crispEdges");
    });
    dates
      .selectAll("text.day")
      .data(dayTicks)
      .enter()
      .append("text")
      .attr("x", (d) => x(d.day) + 1.5)
      .attr("y", 559.5)
      .attr("fill", "#f4f4ff")
      .style("font-family", FONT)
      .style("font-size", "13px")
      .text((d) => d.label);
    monthTicks.forEach((m) => {
      dates
        .append("line")
        .attr("x1", Math.round(x(m.day)) + 0.5)
        .attr("x2", Math.round(x(m.day)) + 0.5)
        .attr("y1", 562)
        .attr("y2", 577)
        .attr("stroke", "#ffffff")
        .attr("shape-rendering", "crispEdges");
      dates
        .append("text")
        .attr("x", x(m.day) + 1.5)
        .attr("y", 575)
        .attr("fill", "#f4f4ff")
        .style("font-family", FONT)
        .style("font-size", "13px")
        .style("letter-spacing", "0.1px")
        .text(m.label);
    });

    // Right hand axes
    const axis = svg.append("g");
    axis
      .append("line")
      .attr("x1", AXIS_X + 0.5)
      .attr("x2", AXIS_X + 0.5)
      .attr("y1", 0)
      .attr("y2", 529)
      .attr("stroke", "#ffffff")
      .attr("shape-rendering", "crispEdges");
    const addTicks = (ys: number[], len: number) => {
      ys.forEach((ty) => {
        axis
          .append("line")
          .attr("x1", AXIS_X)
          .attr("x2", AXIS_X + len)
          .attr("y1", Math.round(ty) + 0.5)
          .attr("y2", Math.round(ty) + 0.5)
          .attr("stroke", "#ffffff")
          .attr("shape-rendering", "crispEdges");
      });
    };
    const addLabels = (
      items: { label: string; y: number }[],
      color: string,
    ) => {
      items.forEach((l) => {
        axis
          .append("text")
          .attr("x", 1325)
          .attr("y", l.y + 4.5)
          .attr("text-anchor", "end")
          .attr("fill", color)
          .style("font-family", FONT)
          .style("font-size", "12.5px")
          .text(l.label);
      });
    };

    // Rating axis
    addTicks([2, 1, 0, -1, -2, -3].map((v) => yRating(v)), 5);
    addTicks([yRating(0)], 8);
    addLabels([{ label: "0", y: yRating(0) + 1 }], "#e8e8f8");

    // Danger axis
    addTicks(
      d3.range(-9, 7).map((k) => yDanger(k / 6)),
      3,
    );
    addTicks([1, 0, -1].map((v) => yDanger(v)), 8);
    addLabels(
      [0.5, -0.5].map((v) => ({ label: String(v), y: yDanger(v) })),
      "#e4e4f4",
    );

    // Concept axis (ticks sit slightly above the label centre)
    addTicks(
      d3.range(48, 70, 1.5).map((v) => yConcept(v) - 1.7),
      3,
    );
    addTicks([65, 60, 55, 50].map((v) => yConcept(v) - 1.7), 8);
    addLabels(
      [65, 60, 55].map((v) => ({ label: String(v), y: yConcept(v) })),
      "#f0e4cc",
    );

    // Price axis
    addTicks(
      d3.range(2.69, 3.47, 0.01).map((v) => yPrice(v)),
      3,
    );
    addTicks(
      d3.range(2.7, 3.46, 0.05).map((v) => yPrice(v)),
      8,
    );
    addLabels(
      d3.range(2.75, 3.41, 0.05).map((v) => ({
        label: v.toFixed(2),
        y: yPrice(v) + 1,
      })),
      "#e8dcdc",
    );

    // Volume axis
    addTicks([501.7], 8);
    addLabels([{ label: "10000", y: yVolume(12) }], "#e8e8e8");
    svg
      .append("rect")
      .attr("x", 1280.5)
      .attr("y", 516.5)
      .attr("width", 28)
      .attr("height", 13)
      .attr("fill", "#000000")
      .attr("stroke", "#ffffff")
      .attr("shape-rendering", "crispEdges");
    svg
      .append("text")
      .attr("x", 1281)
      .attr("y", 526.5)
      .attr("fill", "#f0f0f0")
      .style("font-family", FONT)
      .style("font-size", "10px")
      .text("000");
    svg
      .append("rect")
      .attr("x", AXIS_X + 1)
      .attr("y", 529)
      .attr("width", 74)
      .attr("height", 48)
      .attr("fill", "#ffffff");

    // Panel titles
    svg
      .selectAll("text.title")
      .data(titles)
      .enter()
      .append("text")
      .attr("x", (d) => d.x)
      .attr("y", (d) => d.y)
      .attr("textLength", (d) => d.w)
      .attr("lengthAdjust", "spacing")
      .attr("fill", "#f0f0f8")
      .style("font-family", FONT)
      .style("font-size", "12.5px")
      .text((d) => d.text);

    // Sad face icon
    const face = svg.append("g").attr("transform", "translate(1303,563)");
    face
      .append("circle")
      .attr("r", 7)
      .attr("fill", "none")
      .attr("stroke", "#f03030")
      .attr("stroke-width", 1.2);
    [-2.5, 2.5].forEach((ex) => {
      face
        .append("circle")
        .attr("cx", ex)
        .attr("cy", -1.5)
        .attr("r", 1)
        .attr("fill", "#f03030");
    });
    face
      .append("path")
      .attr("d", "M-3.5 4 Q0 0.5 3.5 4")
      .attr("fill", "none")
      .attr("stroke", "#f03030")
      .attr("stroke-width", 1.2);
  }, []);

  return (
    <svg
      ref={svgRef}
      width={1352}
      height={577}
      style={{ position: "absolute", left: 0, top: 0, display: "block" }}
    />
  );
}
